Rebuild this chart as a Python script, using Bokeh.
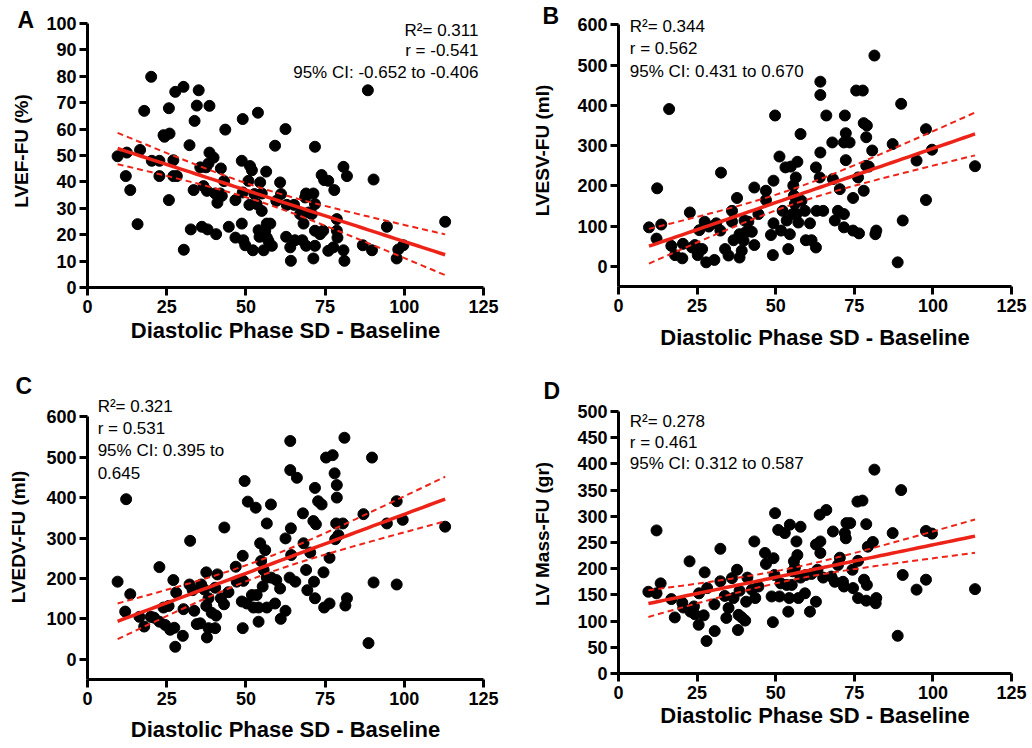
import numpy as np
from bokeh.plotting import figure
from bokeh.layouts import column, row
from bokeh.models import Label, FixedTicker, Range1d
from bokeh.embed import file_html
from bokeh.resources import INLINE

# ---------------- data ----------------
a_x = [9.5, 12.4, 12.1, 13.5, 15.8, 16.6, 17.9, 20.1, 20.3, 22.7, 22.7, 24.0, 24.3, 25.9, 25.7, 25.7,
       27.1, 27.1, 28.2, 27.7, 30.3, 30.4, 32.2, 32.6, 33.5, 33.8, 34.5, 35.1, 35.6, 36.1, 36.6, 37.7,
       37.9, 38.5, 38.5, 38.2, 37.4, 39.8, 40.3, 40.6, 41.0, 41.9, 42.1, 42.4, 43.1, 43.5, 44.6, 46.7,
       46.7, 48.7, 48.7, 49.0, 49.0, 49.2, 49.8, 50.8, 51.1, 51.3, 51.9, 52.2, 52.7, 53.4, 53.8, 54.0,
       54.3, 54.5, 55.0, 55.0, 55.6, 56.1, 56.4, 56.6, 56.6, 57.1, 57.7, 58.2, 59.2, 59.6, 60.8, 61.1,
       62.5, 62.7, 62.9, 64.0, 64.2, 65.2, 65.5, 67.1, 67.8, 68.2, 68.7, 69.0, 69.0, 69.8, 70.8, 71.3,
       71.8, 71.8, 71.8, 71.8, 73.4, 73.9, 74.7, 76.0, 76.0, 77.6, 77.9, 78.7, 78.7, 78.9, 80.8, 80.8,
       81.1, 81.9, 86.9, 88.5, 89.8, 90.3, 94.5, 97.6, 98.1, 99.7, 112.9, 71.3, 74.4]
a_y = [49.7, 51.1, 42.2, 36.9, 24.0, 52.1, 66.9, 79.8, 48.0, 48.0, 42.2, 57.7, 57.1, 58.3, 67.9, 33.1,
       48.2, 42.2, 42.2, 74.1, 76.0, 14.3, 53.9, 22.0, 36.9, 63.1, 68.9, 74.7, 45.5, 23.0, 38.4, 36.6,
       22.0, 68.8, 51.1, 47.0, 45.5, 49.2, 35.6, 20.2, 32.1, 35.6, 45.1, 34.7, 40.3, 59.8, 23.0, 33.1,
       18.9, 48.0, 24.2, 63.8, 36.0, 17.9, 16.0, 40.4, 31.3, 46.0, 44.4, 14.1, 35.4, 31.6, 66.2, 21.7,
       19.2, 39.8, 35.6, 29.0, 14.1, 21.5, 43.9, 24.2, 18.9, 17.7, 24.2, 15.8, 53.7, 32.8, 39.8, 35.4,
       60.0, 19.2, 31.3, 15.2, 10.1, 31.3, 17.9, 27.8, 17.9, 24.2, 34.1, 35.6, 15.8, 28.4, 27.8, 11.0,
       53.3, 21.5, 31.6, 15.8, 20.2, 42.6, 40.7, 40.4, 13.9, 15.2, 36.9, 25.9, 21.5, 18.9, 45.7, 14.1,
       10.1, 42.2, 16.0, 74.7, 14.1, 40.9, 23.0, 11.0, 14.4, 16.0, 24.9, 35.6, 21.5]

b_x = [9.7, 12.1, 12.3, 13.6, 16.1, 16.8, 18.0, 20.3, 20.5, 22.7, 23.4, 24.3, 25.2, 25.7, 26.6, 27.4,
       27.9, 28.7, 30.5, 31.1, 32.4, 32.6, 33.9, 35.0, 36.1, 36.1, 36.6, 37.7, 38.5, 38.5, 39.2, 39.8,
       40.1, 40.6, 41.3, 42.4, 43.2, 43.2, 44.5, 46.9, 46.9, 48.5, 49.1, 49.3, 49.3, 49.8, 51.2, 51.7,
       52.2, 53.1, 53.5, 54.0, 54.5, 54.8, 55.4, 55.6, 55.8, 56.1, 56.4, 56.6, 56.9, 57.2, 57.9, 58.2,
       59.3, 59.6, 60.9, 61.4, 62.8, 62.8, 63.0, 64.0, 64.2, 64.2, 64.2, 65.1, 66.1, 68.0, 68.2, 68.8,
       69.8, 70.4, 71.7, 72.0, 72.3, 72.3, 71.7, 73.5, 71.7, 74.6, 74.6, 75.6, 77.7, 76.2, 76.5, 78.0,
       78.0, 78.8, 79.0, 78.8, 79.6, 80.7, 81.4, 81.7, 82.0, 87.2, 88.8, 89.9, 90.4, 94.8, 97.8, 97.8,
       99.7, 113.4]
b_y = [97, 69, 194, 104, 391, 51, 28, 20, 56, 134, 47, 53, 28, 90, 43, 111,
       10, 99, 16, 107, 89, 233, 43, 27, 138, 111, 65, 170, 80, 22, 39, 64,
       114, 86, 111, 86, 53, 196, 130, 188, 165, 78, 28, 213, 107, 375, 273, 89,
       138, 246, 114, 43, 80, 248, 130, 201, 176, 155, 221, 130, 260, 109, 329, 163,
       138, 65, 107, 65, 47, 246, 138, 221, 459, 426, 283, 138, 375, 308, 217, 114,
       138, 192, 130, 375, 331, 264, 308, 308, 97, 170, 89, 437, 437, 221, 82, 188,
       356, 321, 350, 250, 248, 288, 524, 80, 89, 304, 10, 404, 114, 263, 341, 165,
       290, 249]

c_x = [9.5, 11.9, 12.2, 13.5, 16.4, 17.9, 20.0, 21.0, 22.7, 22.7, 24.0, 24.5, 25.6, 26.1, 27.1, 27.4,
       27.7, 28.0, 30.1, 30.3, 32.4, 32.2, 33.2, 33.7, 34.5, 35.6, 35.9, 36.8, 37.5, 37.5, 37.7, 38.2,
       38.2, 39.2, 40.3, 40.3, 40.6, 41.0, 42.1, 43.1, 43.2, 44.5, 46.8, 47.1, 48.7, 49.0, 49.0, 49.2,
       49.6, 50.3, 50.6, 51.9, 52.4, 53.1, 53.4, 54.0, 54.0, 54.5, 54.8, 55.3, 55.6, 56.1, 56.6, 56.6,
       56.6, 57.9, 58.0, 59.2, 59.6, 60.8, 61.0, 62.5, 62.5, 63.8, 64.0, 64.0, 64.2, 64.3, 65.6, 66.1,
       68.0, 68.2, 69.0, 69.4, 70.3, 71.3, 71.5, 71.8, 71.8, 72.1, 72.8, 73.9, 74.5, 74.7, 75.3, 76.4,
       76.4, 77.4, 78.0, 78.7, 78.7, 78.5, 78.2, 79.2, 80.6, 81.1, 81.4, 81.9, 87.1, 88.7, 89.8, 90.3,
       94.5, 97.6, 97.6, 99.5, 112.9]
c_y = [192, 118, 396, 161, 105, 81, 105, 103, 228, 93, 128, 85, 132, 73, 196, 78,
       31, 165, 58, 124, 293, 185, 171, 120, 87, 89, 185, 173, 215, 132, 54, 151,
       77, 115, 77, 177, 108, 210, 151, 136, 326, 166, 229, 192, 143, 256, 77, 194,
       441, 138, 390, 159, 128, 375, 159, 93, 128, 287, 243, 180, 221, 270, 336, 202,
       128, 383, 202, 138, 196, 175, 100, 120, 299, 202, 540, 468, 324, 258, 192, 449,
       361, 287, 221, 171, 264, 342, 192, 424, 151, 334, 391, 383, 215, 128, 499, 251,
       138, 505, 460, 431, 400, 336, 297, 307, 336, 548, 133, 151, 359, 40, 499, 190,
       336, 391, 185, 345, 328]

d_x = [9.5, 12.1, 12.1, 13.4, 16.8, 17.9, 20.3, 20.6, 22.6, 22.9, 24.0, 24.3, 25.5, 25.6, 27.1, 27.4,
       28.0, 28.2, 30.5, 30.6, 32.4, 32.4, 33.8, 34.3, 35.0, 36.1, 36.6, 37.7, 38.0, 38.2, 38.5, 39.2,
       40.3, 40.6, 41.0, 42.4, 43.2, 43.5, 44.5, 46.6, 46.9, 48.7, 49.1, 49.3, 49.6, 49.8, 50.8, 51.2,
       51.6, 52.9, 53.5, 54.0, 54.3, 54.5, 55.1, 55.4, 55.8, 56.1, 56.6, 56.9, 57.2, 57.9, 57.9, 59.3,
       59.6, 60.9, 61.4, 62.8, 62.8, 63.3, 64.0, 64.2, 64.2, 65.1, 66.1, 67.7, 68.2, 68.8, 69.8, 70.4,
       71.4, 71.7, 72.0, 72.3, 72.5, 73.7, 74.4, 74.6, 76.2, 76.2, 76.0, 77.6, 78.1, 78.8, 78.8, 79.0,
       79.3, 80.9, 81.4, 81.8, 82.0, 87.2, 88.8, 89.9, 90.4, 94.8, 97.8, 97.8, 99.7, 113.4]
d_y = [156, 153, 273, 172, 142, 107, 135, 126, 214, 118, 128, 113, 93, 153, 111, 193,
       62, 163, 132, 81, 238, 176, 148, 106, 125, 182, 144, 198, 83, 112, 158, 107,
       101, 137, 183, 160, 252, 144, 166, 230, 209, 147, 98, 220, 188, 306, 274, 147,
       172, 268, 169, 118, 144, 284, 169, 195, 214, 202, 252, 226, 144, 280, 183, 153,
       188, 118, 190, 137, 246, 198, 303, 252, 230, 183, 312, 185, 271, 175, 207, 221,
       175, 166, 268, 258, 287, 287, 198, 163, 215, 144, 328, 330, 179, 285, 139, 169,
       242, 251, 389, 134, 144, 268, 72, 350, 188, 160, 179, 272, 267, 161]

x_ticks = [0, 25, 50, 75, 100, 125]
a_yticks = list(range(0, 101, 10))
b_yticks = [0, 100, 200, 300, 400, 500, 600]
c_yticks = [0, 100, 200, 300, 400, 500, 600]
d_yticks = list(range(0, 501, 50))

a_stats = ["R\u00b2= 0.311", "r = -0.541", "95% CI: -0.652 to -0.406"]
b_stats = ["R\u00b2= 0.344", "r = 0.562", "95% CI: 0.431 to 0.670"]
c_stats = ["R\u00b2= 0.321", "r = 0.531", "95% CI: 0.395 to", "0.645"]
d_stats = ["R\u00b2= 0.278", "r = 0.461", "95% CI: 0.312 to 0.587"]

XLABEL = "Diastolic Phase SD - Baseline"
RED = "#ee2318"
FONT = "Liberation Sans"


def fit_band(x, y, t=1.98):
    x = np.asarray(x, float)
    y = np.asarray(y, float)
    n = len(x)
    b, a = np.polyfit(x, y, 1)
    res = y - (a + b * x)
    s = np.sqrt(np.sum(res ** 2) / (n - 2))
    xm = x.mean()
    sxx = np.sum((x - xm) ** 2)
    xs = np.linspace(x.min(), x.max(), 60)
    yh = a + b * xs
    se = s * np.sqrt(1.0 / n + (xs - xm) ** 2 / sxx)
    return xs, yh, yh - t * se, yh + t * se


def make_panel(x, y, yticks, ylo, yhi, ytop, ylabel, letter, letter_xy,
               stats, stats_x, stats_y, align, fw, fh, bl, br, bt, bb,
               xlab_standoff, ylab_standoff):
    p = figure(frame_width=fw, frame_height=fh, min_border_left=bl, min_border_right=br,
               min_border_top=bt, min_border_bottom=bb, x_range=Range1d(0, 125),
               y_range=Range1d(ylo, ytop), output_backend="svg", toolbar_location=None,
               background_fill_color="white", border_fill_color="white")
    p.outline_line_color = None
    p.xgrid.visible = False
    p.ygrid.visible = False
    p.xaxis.ticker = FixedTicker(ticks=x_ticks)
    p.yaxis.ticker = FixedTicker(ticks=yticks)
    p.yaxis.bounds = (ylo, yhi)
    p.xaxis.bounds = (0, 125)
    for ax in (p.xaxis[0], p.yaxis[0]):
        ax.axis_line_width = 3
        ax.axis_line_color = "black"
        ax.major_tick_line_width = 3
        ax.major_tick_line_color = "black"
        ax.major_tick_out = 8
        ax.major_tick_in = 0
        ax.minor_tick_line_color = None
        ax.major_label_text_font = FONT
        ax.major_label_text_font_style = "bold"
        ax.major_label_text_font_size = "18px"
        ax.major_label_text_color = "black"
        ax.axis_label_text_font = FONT
        ax.axis_label_text_font_style = "bold"
        ax.axis_label_text_color = "black"
    p.xaxis.axis_label_text_font_size = "22px"
    p.yaxis.axis_label_text_font_size = "19px"
    p.xaxis.axis_label = XLABEL
    p.yaxis.axis_label = ylabel
    p.xaxis.major_label_standoff = 4
    p.yaxis.major_label_standoff = 3
    p.xaxis.axis_label_standoff = xlab_standoff
    p.yaxis.axis_label_standoff = ylab_standoff

    xs, yh, lo, hi = fit_band(x, y)
    p.scatter(x, y, size=11, color="black", line_color="black")
    p.line(xs, lo, line_color=RED, line_width=2, line_dash="6 4")
    p.line(xs, hi, line_color=RED, line_width=2, line_dash="6 4")
    p.line(xs, yh, line_color=RED, line_width=3.5)

    for s, sy in zip(stats, stats_y):
        p.add_layout(Label(x=stats_x, y=sy, text=s, text_font=FONT,
                           text_font_size="17px", text_align=align, text_baseline="middle",
                           text_color="black"))
    p.add_layout(Label(x=letter_xy[0], y=letter_xy[1], x_units="screen", y_units="screen",
                       text=letter, text_font=FONT, text_font_style="bold",
                       text_font_size="23px", text_align="left", text_baseline="middle",
                       text_color="black"), "right")
    return p


pa = make_panel(a_x, a_y, a_yticks, 0, 100, 103.4, "LVEF-FU (%)", "A", (-466, 267.5),
                a_stats, 123.4, [97.5, 89.7, 81.4], "right",
                396, 273, 87, 27, 14, 81, 2, 11)
pb = make_panel(b_x, b_y, b_yticks, -50, 600, 626, "LVESV-FU (ml)", "B", (-469, 270.5),
                b_stats, 3.6, [596.8, 541, 485.5], "left",
                393, 272, 108, 21, 14, 82, 10, 21)
pc = make_panel(c_x, c_y, c_yticks, -50, 600, 655, "LVEDV-FU (ml)", "C", (-468, 294),
                c_stats, 3.2, [625.7, 572, 516, 461], "left",
                396, 285, 87, 27, 26, 66, 9, 14)
pd = make_panel(d_x, d_y, d_yticks, 0, 500, 532.4, "LV Mass-FU (gr)", "D", (-468, 283),
                d_stats, 3.6, [481, 441, 400], "left",
                393, 279, 108, 21, 26, 66, 1, 21)

layout = column(row(pa, pb, spacing=0), row(pc, pd, spacing=0), spacing=0)
open("out.html", "w").write(file_html(layout, INLINE))
